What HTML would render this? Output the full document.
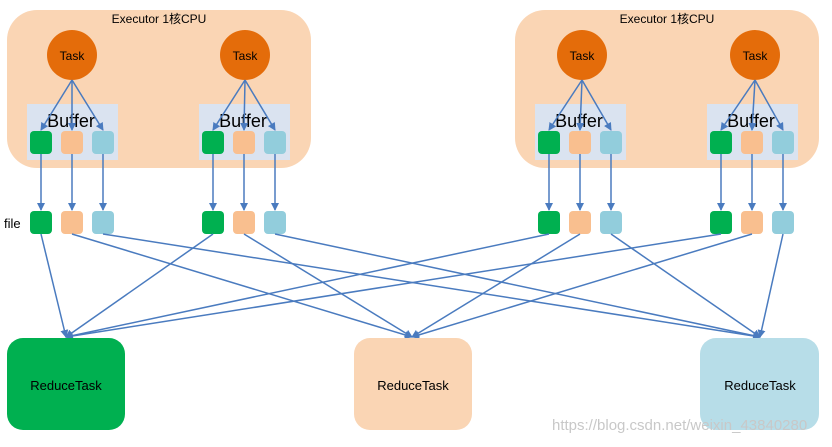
<!DOCTYPE html>
<html><head><meta charset="utf-8"><style>
body{margin:0;background:#fff;}
svg text{font-family:"Liberation Sans","Noto Sans CJK SC",sans-serif;}
</style></head><body>
<svg width="832" height="442" viewBox="0 0 832 442" xmlns="http://www.w3.org/2000/svg">
<defs><marker id="a" markerWidth="8" markerHeight="8" refX="7" refY="4" orient="auto" markerUnits="userSpaceOnUse"><path d="M0,0 L8,4 L0,8 z" fill="#4a7bbf"/></marker></defs>
<rect x="7" y="10" width="304" height="158" rx="30" fill="#fad5b4"/>
<rect x="515" y="10" width="304" height="158" rx="30" fill="#fad5b4"/>
<text x="159" y="23" font-size="12" text-anchor="middle">Executor 1核CPU</text>
<text x="667" y="23" font-size="12" text-anchor="middle">Executor 1核CPU</text>
<g id="g">
</g>
<text x="4" y="228" font-size="13">file</text>
<g stroke="#4a7bbf" stroke-width="1.5" fill="none" marker-end="url(#a)" id="lines"></g>
<rect x="7" y="338" width="118" height="92" rx="16" fill="#00b050"/>
<rect x="354" y="338" width="118" height="92" rx="16" fill="#fad5b4"/>
<rect x="700" y="338" width="119" height="92" rx="16" fill="#b7dde8"/>
<text x="66" y="390" font-size="13" text-anchor="middle">ReduceTask</text>
<text x="413" y="390" font-size="13" text-anchor="middle">ReduceTask</text>
<text x="760" y="390" font-size="13" text-anchor="middle">ReduceTask</text>
<text x="552" y="430" font-size="15" fill="#c8c8c8">https://blog.csdn.net/weixin_43840280</text>
</svg>
<script>
const ns="http://www.w3.org/2000/svg";
const svg=document.querySelector('svg');
const g=document.getElementById('g');
const L=document.getElementById('lines');
function el(p,t,a){const e=document.createElementNS(ns,t);for(const k in a)e.setAttribute(k,a[k]);p.appendChild(e);return e;}
const cols=["#00b050","#f9bf8f","#92cddc"];
const groups=[[30,72],[202,245],[538,582],[710,755]];
const targets=[66,412,760];
groups.forEach(([x0,cx])=>{
 el(g,'rect',{x:x0-3,y:104,width:91,height:56,fill:'#dae3f0'});
 el(g,'circle',{cx:cx,cy:55,r:25,fill:'#e46c0a'});
 const t=el(g,'text',{x:cx,y:60,'font-size':12,'text-anchor':'middle'});t.textContent='Task';
 const b=el(g,'text',{x:x0+41,y:127,'font-size':18,'text-anchor':'middle'});b.textContent='Buffer';
 for(let i=0;i<3;i++){
  const x=x0+i*31;
  el(g,'rect',{x:x,y:131,width:22,height:23,rx:4,fill:cols[i]});
  el(g,'rect',{x:x,y:211,width:22,height:23,rx:4,fill:cols[i]});
  el(L,'line',{x1:cx,y1:80,x2:x+11,y2:130});
  el(L,'line',{x1:x+11,y1:154,x2:x+11,y2:210});
  el(L,'line',{x1:x+11,y1:234,x2:targets[i],y2:337});
 }
});
</script>
</body></html>
